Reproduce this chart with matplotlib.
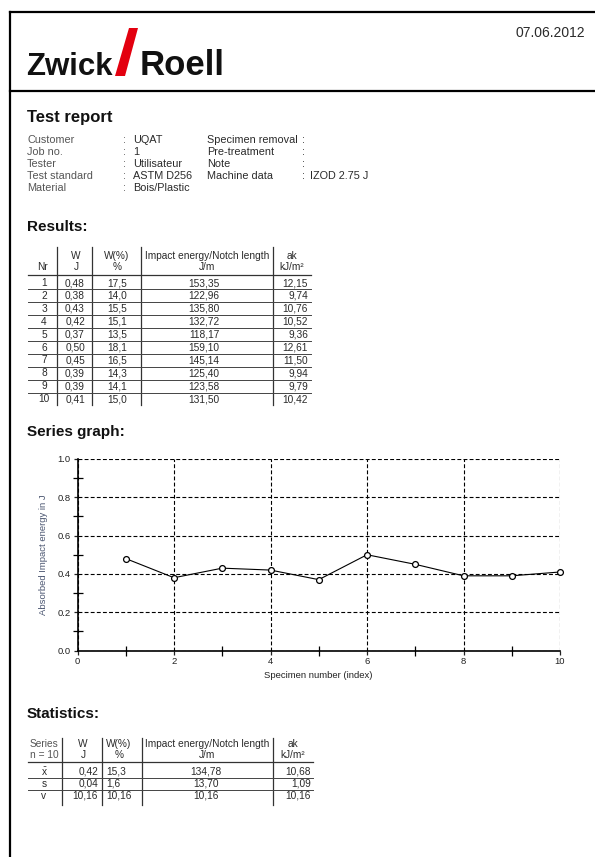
import matplotlib
matplotlib.use("Agg")
import matplotlib.pyplot as plt
from matplotlib.patches import Polygon
from matplotlib.ticker import MultipleLocator, FormatStrFormatter

plt.rcParams['font.family'] = ['Liberation Sans', 'DejaVu Sans']
plt.rcParams['mathtext.fontset'] = 'custom'
plt.rcParams['mathtext.rm'] = 'Liberation Sans'
plt.rcParams['mathtext.it'] = 'Liberation Sans:italic'

# Datos del informe
report_date = "07.06.2012"
info_left = ["Customer", "Job no.", "Tester", "Test standard", "Material"]
info_left_val = ["UQAT", "1", "Utilisateur", "ASTM D256", "Bois/Plastic"]
info_right = ["Specimen removal", "Pre-treatment", "Note", "Machine data"]
info_right_val = ["", "", "", "IZOD 2.75 J"]

# Resultados
nr = list(range(1, 11))
w_j = [0.48, 0.38, 0.43, 0.42, 0.37, 0.50, 0.45, 0.39, 0.39, 0.41]
w_pct = [17.5, 14.0, 15.5, 15.1, 13.5, 18.1, 16.5, 14.3, 14.1, 15.0]
impact = [153.35, 122.96, 135.80, 132.72, 118.17, 159.10, 145.14, 125.40, 123.58, 131.50]
ak = [12.15, 9.74, 10.76, 10.52, 9.36, 12.61, 11.50, 9.94, 9.79, 10.42]

# Estadística
stat_names = [r'$\bar{\mathrm{x}}$', 's', 'v']
stat_w = [0.42, 0.04, 10.16]
stat_w_pct = [15.3, 1.6, 10.16]
stat_impact = [134.78, 13.70, 10.16]
stat_ak = [10.68, 1.09, 10.16]


def fmt(v, d=2):
    return f"{v:.{d}f}".replace('.', ',')


TXT = '#2a2a2a'
GRAY = '#555555'
fs = 7.3

fig = plt.figure(figsize=(5.95, 8.57), dpi=100)

# Página en coordenadas de píxel
pg = fig.add_axes([0, 0, 1, 1])
pg.set_xlim(0, 595)
pg.set_ylim(857, 0)
pg.axis('off')

# Marco
pg.plot([10, 595], [12, 12], color='k', lw=1.6)
pg.plot([10, 10], [12, 857], color='k', lw=1.6)
pg.plot([10, 595], [91, 91], color='k', lw=1.6)

# Logo
pg.text(26, 75, "Zwick", fontsize=22.5, weight='bold', va='baseline', color='#111')
pg.add_patch(Polygon([(115, 76), (125, 76), (138, 28), (129, 28)],
                     closed=True, color='#e3000f', lw=0))
pg.text(140, 75, "Roell", fontsize=25, weight='bold', va='baseline', color='#111')
pg.text(585, 33, report_date, ha='right', va='center', fontsize=10, color=TXT)

# Cabecera
pg.text(27, 117, "Test report", fontsize=12, weight='bold', va='center', color='#111')
for i, (lab, val) in enumerate(zip(info_left, info_left_val)):
    y = 140 + 12 * i
    pg.text(27, y, lab, fontsize=7.8, va='center', color=GRAY)
    pg.text(123, y, ":", fontsize=7.8, va='center', color=GRAY)
    pg.text(133, y, val, fontsize=7.8, va='center', color=TXT)
for i, (lab, val) in enumerate(zip(info_right, info_right_val)):
    y = 140 + 12 * i
    pg.text(207, y, lab, fontsize=7.8, va='center', color=TXT)
    pg.text(302, y, ":", fontsize=7.8, va='center', color=TXT)
    pg.text(310, y, val, fontsize=7.8, va='center', color=TXT)

# Tabla de resultados
pg.text(27, 227, "Results:", fontsize=11, weight='bold', va='center', color='#111')
for x in [57, 92, 141, 273]:
    pg.plot([x, x], [247, 405], color='#333', lw=0.9)
h1, h2 = 256, 267
pg.text(43, h2, "Nr", fontsize=fs, ha='center', va='center', color=TXT)
pg.text(76, h1, "W", fontsize=fs, ha='center', va='center', color=TXT)
pg.text(76, h2, "J", fontsize=fs, ha='center', va='center', color=TXT)
pg.text(117, h1, "W(%)", fontsize=fs, ha='center', va='center', color=TXT)
pg.text(117, h2, "%", fontsize=fs, ha='center', va='center', color=TXT)
pg.text(207, h1, "Impact energy/Notch length", fontsize=fs, ha='center', va='center', color=TXT)
pg.text(207, h2, "J/m", fontsize=fs, ha='center', va='center', color=TXT)
pg.text(292, h1, "ak", fontsize=fs, ha='center', va='center', color=TXT)
pg.text(292, h2, "kJ/m²", fontsize=fs, ha='center', va='center', color=TXT)
pg.plot([28, 311], [275, 275], color='#333', lw=0.9)
for i in range(len(nr)):
    y = 283 + 12.9 * i
    pg.text(44, y, str(nr[i]), fontsize=fs, ha='center', va='center', color=TXT)
    pg.text(75, y, fmt(w_j[i]), fontsize=fs, ha='center', va='center', color=TXT)
    pg.text(117, y, fmt(w_pct[i], 1), fontsize=fs, ha='center', va='center', color=TXT)
    pg.text(204, y, fmt(impact[i]), fontsize=fs, ha='center', va='center', color=TXT)
    pg.text(308, y, fmt(ak[i]), fontsize=fs, ha='right', va='center', color=TXT)
    if i < len(nr) - 1:
        pg.plot([28, 311], [y + 6.4, y + 6.4], color='#444', lw=0.7)

# Gráfico de serie
pg.text(27, 432, "Series graph:", fontsize=11, weight='bold', va='center', color='#111')

g = fig.add_axes([77.5 / 595, (857 - 650.5) / 857, 482.5 / 595, 191.5 / 857])
g.plot(nr, w_j, color='k', lw=0.8, marker='o', ms=4.2, mfc='white', mec='k', mew=0.9,
       zorder=3, clip_on=False)
g.set_xlim(0, 10)
g.set_ylim(0, 1.0)
g.xaxis.set_major_locator(MultipleLocator(2))
g.xaxis.set_minor_locator(MultipleLocator(1))
g.yaxis.set_major_locator(MultipleLocator(0.2))
g.yaxis.set_minor_locator(MultipleLocator(0.1))
g.yaxis.set_major_formatter(FormatStrFormatter('%.1f'))
g.grid(True, which='major', color='k', ls=(0, (3.5, 2)), lw=0.8)
g.tick_params(which='major', direction='out', length=3, width=0.9, labelsize=6.8,
              colors='#222', pad=2)
g.tick_params(which='minor', direction='inout', length=7, width=0.9)
g.spines['top'].set_visible(False)
g.spines['right'].set_visible(False)
g.spines['left'].set_linewidth(1.2)
g.spines['bottom'].set_linewidth(1.2)
g.set_xlabel("Specimen number (index)", fontsize=6.8, color='#222', labelpad=3)
g.set_ylabel("Absorbed Impact energy in J", fontsize=6.8, color='#4a5570', labelpad=7)

# Tabla de estadística
pg.text(27, 714, "Statistics:", fontsize=11, weight='bold', va='center', color='#111')
for x in [62, 102, 142, 273]:
    pg.plot([x, x], [738, 805], color='#333', lw=0.9)
s1, s2 = 744, 755
pg.text(44, s1, "Series", fontsize=fs, ha='center', va='center', color=GRAY)
pg.text(44, s2, "n = 10", fontsize=fs, ha='center', va='center', color=GRAY)
pg.text(83, s1, "W", fontsize=fs, ha='center', va='center', color=TXT)
pg.text(83, s2, "J", fontsize=fs, ha='center', va='center', color=TXT)
pg.text(119, s1, "W(%)", fontsize=fs, ha='center', va='center', color=TXT)
pg.text(119, s2, "%", fontsize=fs, ha='center', va='center', color=TXT)
pg.text(207, s1, "Impact energy/Notch length", fontsize=fs, ha='center', va='center', color=TXT)
pg.text(207, s2, "J/m", fontsize=fs, ha='center', va='center', color=TXT)
pg.text(293, s1, "ak", fontsize=fs, ha='center', va='center', color=TXT)
pg.text(293, s2, "kJ/m²", fontsize=fs, ha='center', va='center', color=TXT)
pg.plot([28, 313], [762, 762], color='#333', lw=0.9)
w_dec = [2, 2, 2]
p_dec = [1, 1, 2]
for i in range(len(stat_names)):
    y = 772 + 12 * i
    pg.text(44, y, stat_names[i], fontsize=fs, ha='center', va='center', color=TXT)
    pg.text(98, y, fmt(stat_w[i], w_dec[i]), fontsize=fs, ha='right', va='center', color=TXT)
    pg.text(106, y, fmt(stat_w_pct[i], p_dec[i]), fontsize=fs, ha='left', va='center', color=TXT)
    pg.text(206, y, fmt(stat_impact[i]), fontsize=fs, ha='center', va='center', color=TXT)
    pg.text(311, y, fmt(stat_ak[i]), fontsize=fs, ha='right', va='center', color=TXT)
    if i < len(stat_names) - 1:
        pg.plot([28, 313], [y + 6, y + 6], color='#444', lw=0.7)

fig.savefig("out.png", dpi=100)
